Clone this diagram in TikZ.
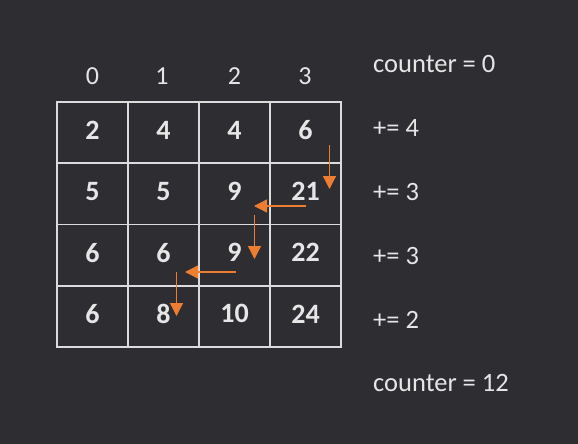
\documentclass[tikz,border=0pt]{standalone}
\usepackage{fontspec}
\setmainfont{Carlito}
\usetikzlibrary{arrows.meta}
\definecolor{bg}{HTML}{2D2D32}
\definecolor{fg}{HTML}{E6E6E6}
\definecolor{gridc}{HTML}{DCDCDC}
\definecolor{orng}{HTML}{ED7D31}
\begin{document}
\begin{tikzpicture}[x=1pt,y=-1pt,
  cell/.style={draw=gridc,line width=1.8pt,minimum width=71pt,minimum height=61.25pt,inner sep=0pt},
  val/.style={text=fg,font=\fontsize{28}{32}\selectfont\bfseries,inner sep=0pt,yshift=2.5pt},
  hdr/.style={text=fg,font=\fontsize{26}{30}\selectfont,inner sep=0pt},
  lbl/.style={text=fg,font=\fontsize{26.5}{30}\selectfont,inner sep=0pt,anchor=west},
  arr/.style={draw=orng,line width=1.3pt,-{Triangle[width=13pt,length=13pt]}}]
\fill[bg] (0,0) rectangle (578,444);
\useasboundingbox (0,0) rectangle (578,444);
% header
\foreach \c/\x in {0/92.5,1/162,2/234.5,3/305}{
  \node[hdr] (h\c) at (\x,76) {\c};
}
% cells
\foreach \r/\vals in {0/{2,4,4,6},1/{5,5,9,21},2/{6,6,9,22},3/{6,8,10,24}}{
  \foreach \v [count=\c from 0] in \vals {
    \node[cell,label={[val]center:\v}] (c\r\c) at ({92.5+71*\c},{132.6+61.25*\r}) {};
  }
}
% labels
\node[lbl] (l0) at (373,64) {counter = 0};
\node[lbl] (l1) at (373,128) {+= 4};
\node[lbl] (l2) at (373,192) {+= 3};
\node[lbl] (l3) at (373,256) {+= 3};
\node[lbl] (l4) at (373,320) {+= 2};
\node[lbl] (l5) at (373,383) {counter = 12};
% arrow coordinates
\coordinate (a1s) at (329.5,145);
\coordinate (a1e) at (329.5,189);
\coordinate (a2s) at (306,206);
\coordinate (a2e) at (254,206);
\coordinate (a3s) at (254.5,215);
\coordinate (a3e) at (254.5,259);
\coordinate (a4s) at (236,272);
\coordinate (a4e) at (185,272);
\coordinate (a5s) at (176.5,272);
\coordinate (a5e) at (176.5,316);
\draw[arr] (a1s) -- (a1e);
\draw[arr] (a2s) -- (a2e);
\draw[arr] (a3s) -- (a3e);
\draw[arr] (a4s) -- (a4e);
\draw[arr] (a5s) -- (a5e);
\end{tikzpicture}
\end{document}
